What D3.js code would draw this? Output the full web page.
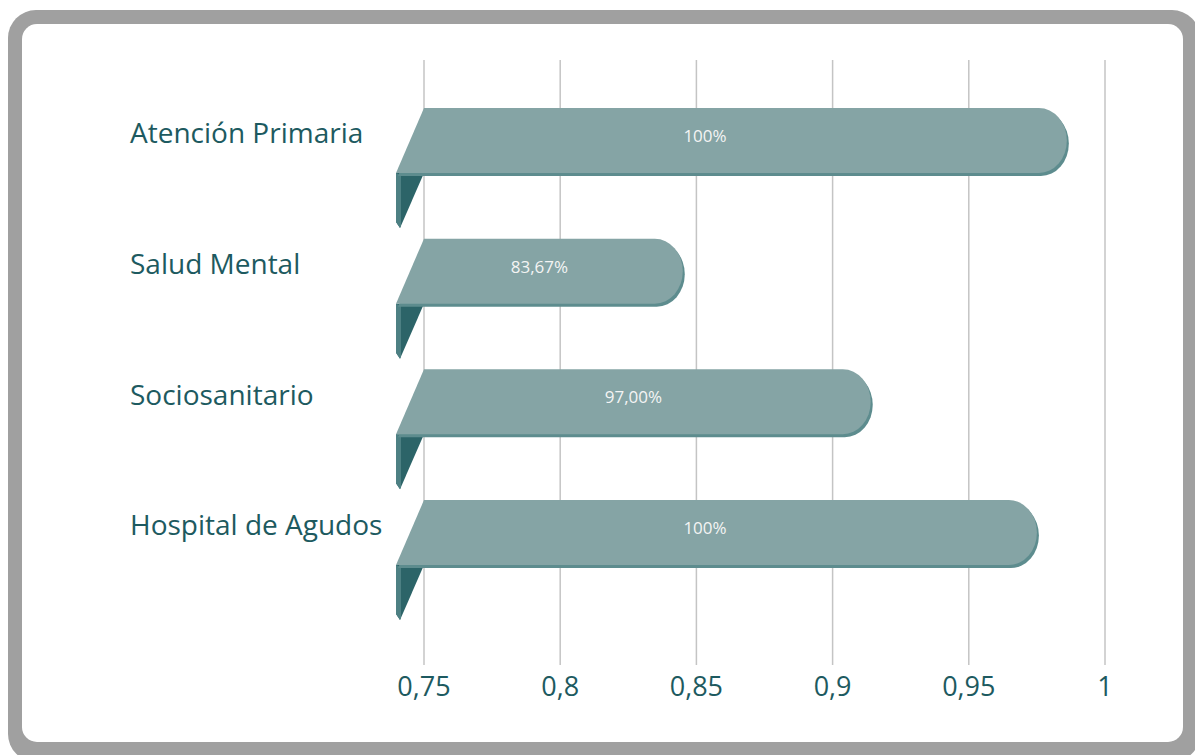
<!DOCTYPE html>
<html>
<head>
<meta charset="utf-8">
<script src="https://cdn.jsdelivr.net/npm/d3@7"></script>
<style>
  html, body { margin: 0; padding: 0; background: #ffffff; }
  svg { display: block; }
</style>
</head>
<body>
<svg id="chart" width="1195" height="755"></svg>
<script>
// categories, top to bottom
var categories = ["Atención Primaria", "Salud Mental", "Sociosanitario", "Hospital de Agudos"];
// where each bar ends, read against the axis (3D perspective shortens them)
var barEnds = [0.986, 0.845, 0.914, 0.975];
// labels printed on the bars
var valueLabels = ["100%", "83,67%", "97,00%", "100%"];
var tickValues = [0.75, 0.8, 0.85, 0.9, 0.95, 1];

var svg = d3.select("#chart");

var barColor = "#85a4a5", shadeColor = "#5d8c8e", foldColor = "#2c6468", foldEdge = "#4d8083";
var textColor = "#1d5a60";

// frame
svg.append("rect").attr("x", 8).attr("y", 10).attr("width", 1192).attr("height", 752)
    .attr("rx", 28).attr("fill", "#a0a0a0");
svg.append("rect").attr("x", 22).attr("y", 24).attr("width", 1161).attr("height", 718)
    .attr("rx", 15).attr("fill", "#ffffff");

var x = d3.scaleLinear().domain([0.75, 1]).range([424, 1105]);
var y = d3.scalePoint().domain(categories).range([108, 500]);
var barH = 65, depth = 28, capR = 28;

var locale = d3.formatLocale({decimal: ",", thousands: ".", grouping: [3], currency: ["", "€"]});
var fmt = locale.format("~g");

// gridlines
svg.append("g").selectAll("line")
    .data(tickValues)
    .enter()
    .append("line")
    .attr("x1", function(d){ return x(d); })
    .attr("x2", function(d){ return x(d); })
    .attr("y1", 60)
    .attr("y2", 665)
    .attr("stroke", "#c4c4c4")
    .attr("stroke-width", 1.5);

// tick labels
svg.append("g").selectAll("text")
    .data(tickValues)
    .enter()
    .append("text")
    .attr("x", function(d){ return x(d); })
    .attr("y", 689)
    .attr("text-anchor", "middle")
    .attr("dominant-baseline", "middle")
    .attr("font-family", "'Open Sans', sans-serif")
    .attr("font-size", 27)
    .attr("fill", textColor)
    .text(function(d){ return fmt(d); });

function barPath(d, i){
    var t = y(categories[i]);
    var x0 = x(0.75);
    var xe = x(d);
    return "M" + x0 + "," + t +
        "L" + (xe - capR) + "," + t +
        "A" + capR + "," + (barH / 2) + " 0 0 1 " + (xe - capR) + "," + (t + barH) +
        "L" + (x0 - depth) + "," + (t + barH) + "Z";
}

var bars = svg.append("g").selectAll("g")
    .data(barEnds)
    .enter()
    .append("g");

// fold under the left end
bars.append("path")
    .attr("d", function(d, i){
        var b = y(categories[i]) + barH;
        var x0 = x(0.75);
        return "M" + (x0 - depth) + "," + b + "L" + x0 + "," + b +
            "L" + (x0 - depth + 4) + "," + (b + 55) + "L" + (x0 - depth) + "," + (b + 49) + "Z";
    })
    .attr("fill", foldColor);
bars.append("path")
    .attr("d", function(d, i){
        var b = y(categories[i]) + barH;
        var x0 = x(0.75);
        return "M" + (x0 - depth) + "," + b + "L" + (x0 - depth + 5) + "," + (b + 2) +
            "L" + (x0 - depth + 5) + "," + (b + 53) + "L" + (x0 - depth + 4) + "," + (b + 55) +
            "L" + (x0 - depth) + "," + (b + 49) + "Z";
    })
    .attr("fill", foldEdge);

// shaded edge, then top face
bars.append("path")
    .attr("d", barPath)
    .attr("transform", "translate(2,3)")
    .attr("fill", shadeColor);
bars.append("path")
    .attr("d", barPath)
    .attr("fill", barColor);

// value labels, kept inside the plot like the original
bars.append("text")
    .attr("x", function(d){ return Math.min((x(0.75) - depth + x(d)) / 2, 705); })
    .attr("y", function(d, i){ return y(categories[i]) + barH / 2 - 3; })
    .attr("text-anchor", "middle")
    .attr("dominant-baseline", "middle")
    .attr("font-family", "'Open Sans', sans-serif")
    .attr("font-size", 17)
    .attr("fill", "#f4f4f4")
    .text(function(d, i){ return valueLabels[i]; });

// category labels
svg.append("g").selectAll("text")
    .data(categories)
    .enter()
    .append("text")
    .attr("x", 130)
    .attr("y", function(d){ return y(d) + 28; })
    .attr("dominant-baseline", "middle")
    .attr("font-family", "'Open Sans', sans-serif")
    .attr("font-size", 28)
    .attr("fill", textColor)
    .text(function(d){ return d; });
</script>
</body>
</html>
